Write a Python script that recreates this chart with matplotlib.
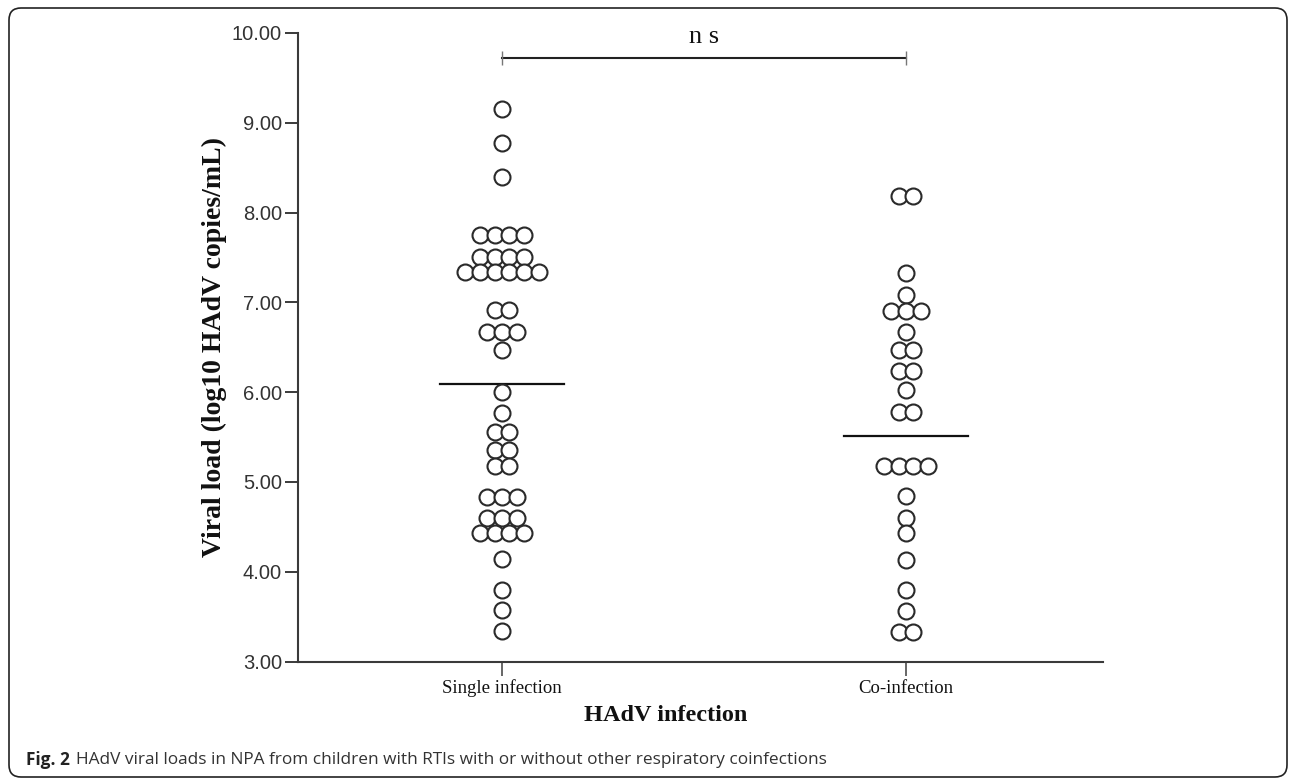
import matplotlib
matplotlib.use("Agg")
import matplotlib.pyplot as plt
import numpy as np
from matplotlib.patches import FancyBboxPatch
from matplotlib.transforms import IdentityTransform

# values (log10 copies/mL), one entry per circle
groups = ["Single infection", "Co-infection"]
single_load = [
    9.15, 8.78, 8.40,
    7.75, 7.75, 7.75, 7.75,
    7.51, 7.51, 7.51, 7.51,
    7.34, 7.34, 7.34, 7.34, 7.34, 7.34,
    6.91, 6.91,
    6.67, 6.67, 6.67,
    6.47, 6.00, 5.77,
    5.56, 5.56,
    5.36, 5.36,
    5.18, 5.18,
    4.83, 4.83, 4.83,
    4.60, 4.60, 4.60,
    4.43, 4.43, 4.43, 4.43,
    4.14, 3.80, 3.57, 3.34,
]
coinf_load = [
    8.18, 8.18,
    7.33, 7.08,
    6.90, 6.90, 6.90,
    6.67,
    6.47, 6.47,
    6.24, 6.24,
    6.02,
    5.78, 5.78,
    5.18, 5.18, 5.18, 5.18,
    4.84, 4.60, 4.43, 4.13, 3.80, 3.56,
    3.33, 3.33,
]
group_means = [6.09, 5.51]
yticks = [3, 4, 5, 6, 7, 8, 9, 10]
sig_label = "n s"
caption_head = "Fig. 2"
caption_body = "HAdV viral loads in NPA from children with RTIs with or without other respiratory coinfections"

W, H = 1292, 780
STEP = 0.0365  # horizontal spacing between circles sharing a value


def row_offsets(values, step):
    vals = np.asarray(values)
    offs = np.zeros(len(vals))
    for v in np.unique(vals):
        idx = np.where(vals == v)[0]
        offs[idx] = (np.arange(len(idx)) - (len(idx) - 1) / 2) * step
    return offs


fig = plt.figure(figsize=(W / 100, H / 100), dpi=100)
ax = fig.add_axes([298 / W, 1 - 661.5 / H, (1103 - 298) / W, (661.5 - 33) / H])

axis_col = "#3a3a3a"
for pos, vals in zip([1, 2], [single_load, coinf_load]):
    xs = pos + row_offsets(vals, STEP)
    ax.plot(xs, vals, linestyle="none", marker="o", markersize=11.5,
            markerfacecolor="white", markeredgecolor="#2a2a2a",
            markeredgewidth=1.5, zorder=3, clip_on=False)

for pos, m in zip([1, 2], group_means):
    ax.plot([pos - 0.153, pos + 0.153], [m, m], color="#111111", lw=1.6, zorder=2)

# significance bracket
ax.plot([1, 2], [9.72, 9.72], color="#222222", lw=1.5, clip_on=False, zorder=2)
ax.plot([1, 2], [9.72, 9.72], linestyle="none", marker="|", markersize=10,
        markeredgecolor="#777777", markeredgewidth=1.0, clip_on=False)
ax.text(1.5, 9.955, sig_label, ha="center", va="center", fontsize=19,
        family="Liberation Serif", color="#111111", clip_on=False)

ax.set_xlim(0.495, 2.488)
ax.set_ylim(3, 10)
ax.set_xticks([1, 2])
ax.set_xticklabels(groups, family="Liberation Serif", fontsize=13.5, color="#111111")
ax.set_yticks(yticks)
ax.set_yticklabels([f"{t:.2f}" for t in yticks], family="Liberation Sans",
                   fontsize=14.5, color="#333333")
ax.tick_params(axis="y", length=9.5, width=1.4, pad=2, color=axis_col)
ax.tick_params(axis="x", length=10, width=1.4, pad=3, color="#666666")

for side in ("top", "right"):
    ax.spines[side].set_visible(False)
for side in ("left", "bottom"):
    ax.spines[side].set_color(axis_col)
    ax.spines[side].set_linewidth(1.5)

ax.set_ylabel("Viral load (log10 HAdV copies/mL)", family="Liberation Serif",
              fontweight="bold", fontsize=20, color="#111111")
ax.yaxis.set_label_coords(-0.088, 0.5)
ax.set_xlabel("HAdV infection", family="Liberation Serif", fontweight="bold",
              fontsize=17.5, color="#111111")
ax.xaxis.set_label_coords(0.457, -0.069)

# caption with bold figure number
head = fig.text(26 / W, 20 / H, caption_head, family="Open Sans", fontweight="bold",
                fontsize=12.4, color="#222222", va="center", ha="left")
fig.canvas.draw()
bb = head.get_window_extent()
fig.text((bb.x1 + 6) / W, 20 / H, caption_body, family="Open Sans",
         fontsize=12.4, color="#333333", va="center", ha="left")

# rounded frame around the whole figure
frame = FancyBboxPatch((9, 3), 1278, 769, boxstyle="round,pad=0,rounding_size=12",
                       transform=IdentityTransform(), facecolor="none",
                       edgecolor="#222222", linewidth=1.2)
fig.add_artist(frame)

fig.savefig("out.png", dpi=100)
